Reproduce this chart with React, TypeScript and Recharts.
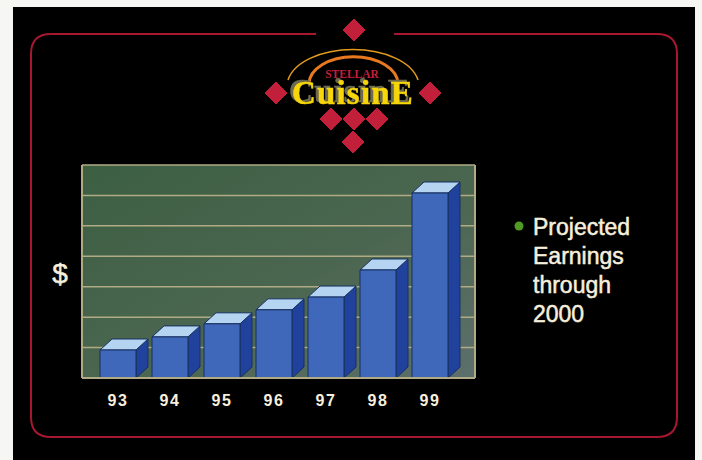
import { BarChart, Bar, XAxis, YAxis, CartesianGrid } from 'recharts'

const YEARS = ['93', '94', '95', '96', '97', '98', '99']
const EARNINGS = [0.92, 1.35, 1.78, 2.24, 2.66, 3.55, 6.08]
const Y_TICKS = [0, 1, 2, 3, 4, 5, 6, 7]
const NOTE_LINES = ['Projected', 'Earnings', 'through', '2000']
// logo diamonds, centre x / y on the page
const DIAMONDS = [[354, 30], [276, 93], [430, 93], [331, 119], [354, 119], [377, 119], [353, 142]]

const data = YEARS.map((year, i) => ({ year, earnings: EARNINGS[i] }))

const RED = '#c21f3a'
const CREAM = '#f6efdc'
const GRID = '#b0ab84'
const SANS = '"Liberation Sans", Arial, sans-serif'
const SERIF = '"Liberation Serif", serif'

function Box3D({ x, y, width, height }: { x?: number; y?: number; width?: number; height?: number }) {
  const dx = 12
  const dy = 11
  const l = x as number
  const t = y as number
  const r = l + (width as number)
  const b = t + (height as number)
  return (
    <g stroke="#16305f" strokeWidth={1} strokeLinejoin="round">
      <polygon points={`${r},${t} ${r + dx},${t - dy} ${r + dx},${b - dy} ${r},${b}`} fill="#20429c" />
      <polygon points={`${l},${t} ${l + dx},${t - dy} ${r + dx},${t - dy} ${r},${t}`} fill="#b4d4f2" />
      <rect x={l} y={t} width={width} height={height} fill="#3f68bb" />
    </g>
  )
}

function Dollar({ viewBox }: { viewBox?: { x: number; y: number; height: number } }) {
  if (!viewBox) return null
  return (
    <text x={60} y={283} fill={CREAM} stroke={CREAM} strokeWidth={0.5} fontFamily={SANS} fontSize={28} textAnchor="middle">$</text>
  )
}

// the grid only gets its lines when the axis has ticks, so keep them but draw nothing
const NoTick = () => <g />

function Backdrop() {
  return (
    <svg width={702} height={460} style={{ position: 'absolute', left: 0, top: 0 }}>
      <rect width={702} height={460} fill="#f6f6f2" />
      <rect x={13} y={7} width={682} height={453} fill="#000" />
      <path
        d="M316 34 H51 Q31 34 31 54 V417 Q31 437 51 437 H657 Q677 437 677 417 V54 Q677 34 657 34 H394"
        fill="none" stroke="#a5182f" strokeWidth={2}
      />
      {DIAMONDS.map(([cx, cy]) => (
        <polygon key={`${cx}-${cy}`} points={`${cx},${cy - 11} ${cx + 11},${cy} ${cx},${cy + 11} ${cx - 11},${cy}`} fill={RED} stroke={RED} strokeWidth={1} strokeLinejoin="round" />
      ))}
      <path d="M288 80 A 66 37 0 0 1 418 80" fill="none" stroke="#e39a1c" strokeWidth={1.5} />
      <path d="M309 84 A 44 27 0 0 1 398 84" fill="none" stroke="#e8791f" strokeWidth={3} />
      <text x={352} y={78} textAnchor="middle" fontFamily={SERIF} fontWeight="bold" fontSize={11.5} fill={RED}>STELLAR</text>
      <text
        x={353} y={104} textAnchor="middle" fontFamily={SERIF} fontWeight="bold" fontSize={33} letterSpacing={1.2}
        fill="#f6d60a" stroke="#f6d60a" strokeWidth={0.5}
        style={{ filter: 'drop-shadow(-3px -2px 0 #6d6a50)' }}
      >CuisinE</text>
      <circle cx={519} cy={226} r={4.5} fill="#4f9a22" />
      {NOTE_LINES.map((line, i) => (
        <text key={line} x={533} y={235 + i * 29} fontFamily={SANS} fontSize={23} fill={CREAM} stroke={CREAM} strokeWidth={0.5}>{line}</text>
      ))}
    </svg>
  )
}

export default function App() {
  return (
    <div style={{ position: 'absolute', left: 0, top: 0, width: 702, height: 460, overflow: 'hidden' }}>
      <Backdrop />
      <div style={{ position: 'absolute', left: 0, top: 0 }}>
        <BarChart width={702} height={460} data={data} margin={{ top: 165, right: 226, bottom: 42, left: 42 }}>
          <defs>
            <linearGradient id="plotFill" x1="0" y1="0" x2="1" y2="1">
              <stop offset="0%" stopColor="#3c5f42" />
              <stop offset="55%" stopColor="#4b6650" />
              <stop offset="100%" stopColor="#5d6f6c" />
            </linearGradient>
          </defs>
          <CartesianGrid vertical={false} stroke={GRID} strokeWidth={1.5} fill="url(#plotFill)" fillOpacity={1} />
          <XAxis
            dataKey="year" height={40} padding={{ left: 10, right: 19 }} interval={0}
            axisLine={{ stroke: GRID, strokeWidth: 2 }} tickLine={false} tickMargin={11}
            tick={{ fill: CREAM, fontSize: 16, fontWeight: 'bold', fontFamily: SANS, letterSpacing: 1.5 }}
          />
          <YAxis
            width={40} domain={[0, 7]} ticks={Y_TICKS} tick={NoTick} tickLine={false}
            axisLine={{ stroke: GRID, strokeWidth: 2 }} label={<Dollar />}
          />
          <YAxis
            yAxisId="frame" orientation="right" width={1} domain={[0, 7]} tick={false} tickLine={false}
            axisLine={{ stroke: GRID, strokeWidth: 2 }}
          />
          <Bar dataKey="earnings" barSize={36} shape={<Box3D />} isAnimationActive={false} />
        </BarChart>
      </div>
    </div>
  )
}
